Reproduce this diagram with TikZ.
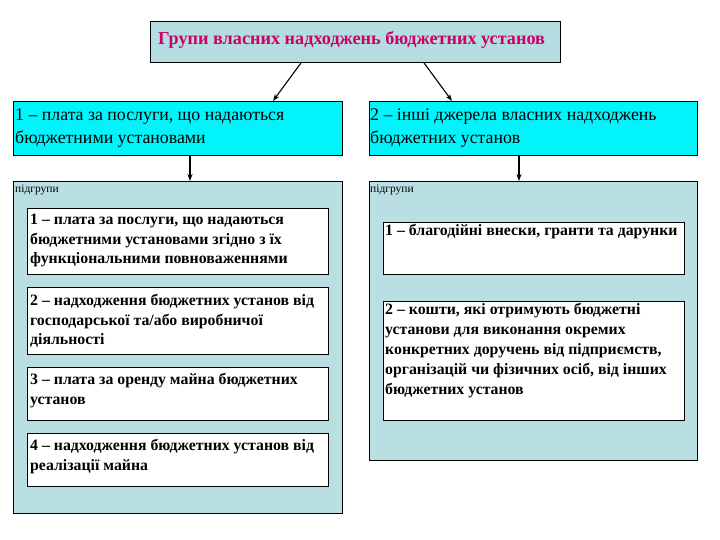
\documentclass[tikz,border=0pt]{standalone}
\usepackage{fontspec}
\setmainfont{Liberation Serif}
\usetikzlibrary{arrows.meta,positioning}
\definecolor{titleFill}{HTML}{B4DDE1}
\definecolor{panelFill}{HTML}{BADFE3}
\definecolor{kindFill}{HTML}{00F4FA}
\definecolor{titleRed}{HTML}{CC0066}
\tikzset{
  box/.style={draw=black,line width=0.9pt,anchor=north west,inner sep=0pt},
  txt/.style={anchor=north west,inner sep=0pt,align=left},
  line/.style={anchor=base west,inner sep=0pt},
  kindtxt/.style={txt,font=\fontsize{17.8}{23}\selectfont},
  subtxt/.style={txt,font=\fontsize{15.8}{19.5}\selectfont\bfseries},
  tiny/.style={line,font=\fontsize{11.5}{13}\selectfont},
  arr/.style={-{Stealth[length=7pt,width=5pt]},line width=1.1pt},
}

\begin{document}
\begin{tikzpicture}[x=1pt,y=-1pt]
\useasboundingbox[fill=white] (0,0) rectangle (720,540);
% title box
\node[box,fill=titleFill,minimum width=410pt,minimum height=41pt] (title) at (150,21) {};
\node[line,font=\fontsize{18.2}{21}\selectfont\bfseries,text=titleRed] (titletxt) at (158,45)
  {Групи власних надходжень бюджетних установ};
% two kinds of own revenue
\node[box,fill=kindFill,minimum width=329pt,minimum height=54pt] (kind1) at (13,101) {};
\node[kindtxt] (kind1txt) at (15,108.5) {1 – плата за послуги, що надаються\\бюджетними установами};
\node[box,fill=kindFill,minimum width=328pt,minimum height=54pt] (kind2) at (369,101) {};
\node[kindtxt] (kind2txt) at (370,108.5) {2 – інші джерела власних надходжень\\бюджетних установ};
\draw[arr] ([xshift=151pt]title.south west) -- ([xshift=260pt]kind1.north west);
\draw[arr] ([xshift=274pt]title.south west) -- ([xshift=83pt]kind2.north west);
% subgroup panels
\node[box,fill=panelFill,minimum width=329pt,minimum height=332pt] (grpL) at (13,181) {};
\node[tiny] (grpLtxt) at (15,193) {підгрупи};
\node[box,fill=panelFill,minimum width=328pt,minimum height=279pt] (grpR) at (369,181) {};
\node[tiny] (grpRtxt) at (370,193) {підгрупи};
\draw[arr] ([xshift=177pt]kind1.south west) -- ([xshift=177pt]grpL.north west);
\draw[arr] ([xshift=150pt]kind2.south west) -- ([xshift=150pt]grpR.north west);
% left subgroups
\node[box,fill=white,minimum width=301pt,minimum height=66pt] (subL1) at (27,208) {};
\node[subtxt] (subL1txt) at (30,214) {1 – плата за послуги, що надаються\\бюджетними установами згідно з їх\\функціональними повноваженнями};
\node[box,fill=white,minimum width=301pt,minimum height=67pt] (subL2) at (27,287) {};
\node[subtxt] (subL2txt) at (30,294) {2 – надходження бюджетних установ від\\господарської та/або виробничої\\діяльності};
\node[box,fill=white,minimum width=301pt,minimum height=53pt] (subL3) at (27,367) {};
\node[subtxt] (subL3txt) at (30,373) {3 – плата за оренду майна бюджетних\\установ};
\node[box,fill=white,minimum width=301pt,minimum height=53pt] (subL4) at (27,433) {};
\node[subtxt] (subL4txt) at (30,439) {4 – надходження бюджетних установ від\\реалізації майна};
% right subgroups
\node[box,fill=white,minimum width=301pt,minimum height=52pt] (subR1) at (383,222) {};
\node[line,font=\fontsize{15.8}{19.5}\selectfont\bfseries] (subR1txt) at (385,236) {1 – благодійні внески, гранти та дарунки};
\node[box,fill=white,minimum width=301pt,minimum height=119pt] (subR2) at (383,301) {};
\node[subtxt,font=\fontsize{15.8}{20}\selectfont\bfseries] (subR2txt) at (385,303)
  {2 – кошти, які отримують бюджетні\\установи для виконання окремих\\конкретних доручень від підприємств,\\організацій чи фізичних осіб, від інших\\бюджетних установ};
\end{tikzpicture}
\end{document}
